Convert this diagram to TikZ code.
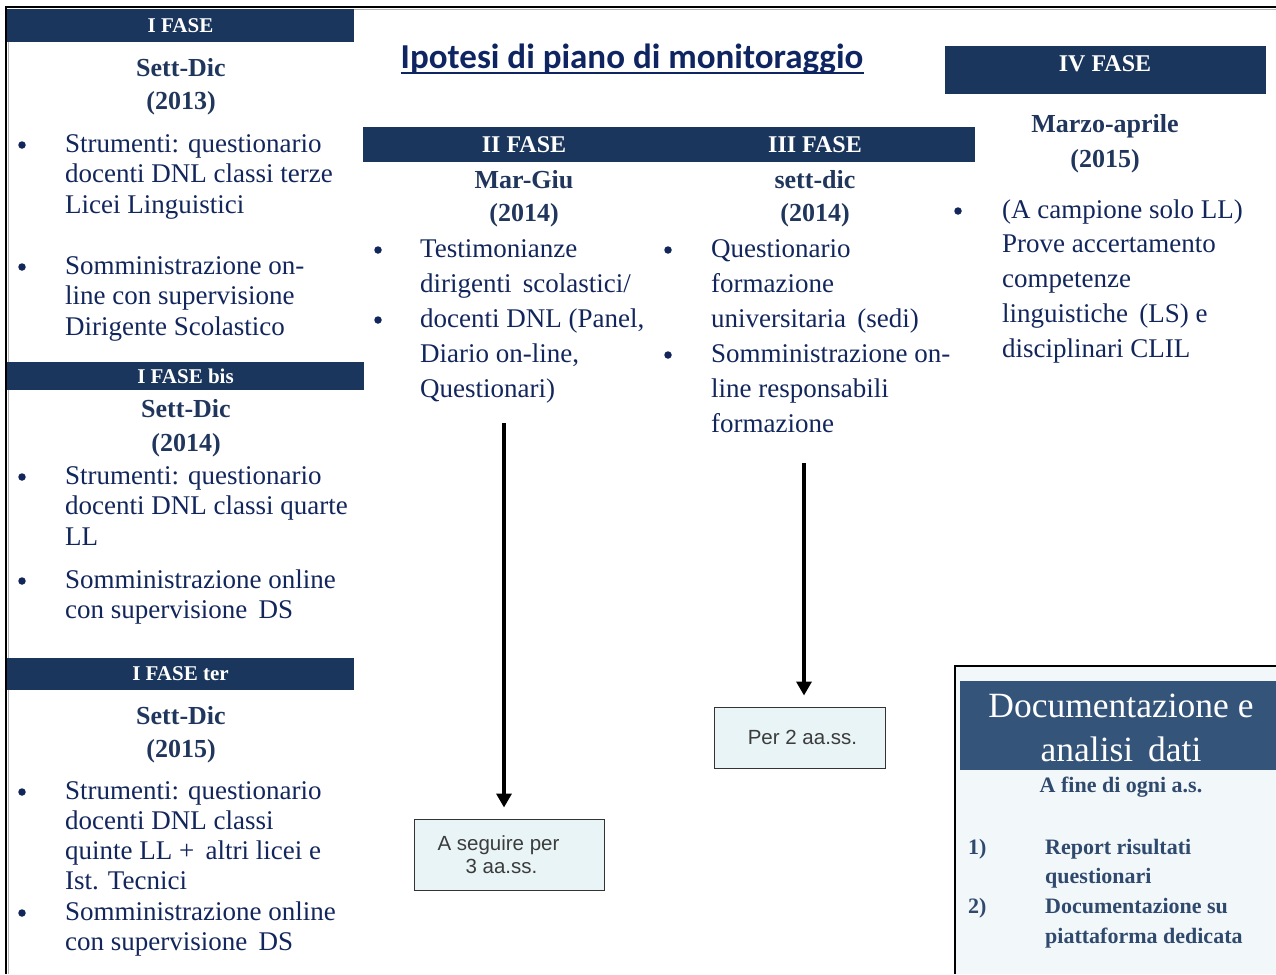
\documentclass[tikz,border=0pt]{standalone}
\usepackage{fontspec}
\setmainfont{Liberation Serif}
\newfontfamily\titlefont{Carlito}
\newfontfamily\arialfont{Liberation Sans}
\usetikzlibrary{arrows.meta}
\definecolor{hdrblue}{RGB}{27,54,93}
\definecolor{bodyblue}{RGB}{18,38,92}
\definecolor{subblue}{RGB}{32,54,92}
\definecolor{titleblue}{RGB}{14,37,98}
\definecolor{docblue}{RGB}{52,84,122}
\definecolor{doctext}{RGB}{48,74,110}
\definecolor{docbg}{RGB}{242,247,250}
\definecolor{boxbg}{RGB}{232,244,245}
\definecolor{boxtext}{RGB}{60,60,60}
\tikzset{
  body/.style={anchor=base west, inner sep=0, text=bodyblue, font=\fontsize{27}{32}\selectfont},
  subhead/.style={anchor=center, inner sep=0, text=subblue, font=\bfseries\fontsize{26}{30}\selectfont},
  hdrtext/.style={anchor=center, inner sep=0, text=white, font=\bfseries\fontsize{21}{24}\selectfont},
  bighdr/.style={hdrtext, font=\bfseries\fontsize{24}{28}\selectfont},
  dot/.style={circle, fill=bodyblue, inner sep=0, minimum size=7.5},
  smallbox/.style={draw=black!80, line width=1, fill=boxbg, text=boxtext, align=center,
     font=\arialfont\fontsize{20.5}{26}\selectfont},
  bigarrow/.style={line width=3.5, -{Triangle[width=15pt,length=14pt]}},
  doctxt/.style={anchor=base west, inner sep=0, text=doctext, font=\bfseries\fontsize{22}{26}\selectfont},
}
\newcommand\txtlines[5]{\foreach \myline [count=\i from 0] in {#5} \node[body] (#1\i) at (#2, {#3+#4*\i}) {\myline};}
\begin{document}
\begin{tikzpicture}[x=1pt,y=-1pt]
\useasboundingbox (0,0) rectangle (1276,974);
% outer frame
\draw[gray!60, line width=1.5] (1276,9.5) -- (8.5,9.5) -- (8.5,974);
\draw[black, line width=2] (6,974) -- (6,7) -- (1276,7);

% ---------- I FASE ----------
\fill[hdrblue] (7,9) rectangle (354,42);
\node[hdrtext] (h1) at (180.5,25.5) {I FASE};
\node[subhead] (s1a) at (181,68) {Sett-Dic};
\node[subhead] (s1b) at (181,103) {(2013)};
\node[dot] (b1a) at (22,145) {};
\node[dot] (b1b) at (22,267) {};
\txtlines{fa}{65}{152}{30.5}{{Strumenti: questionario},{docenti DNL classi terze},{Licei Linguistici}}
\txtlines{fb}{65}{274}{30.5}{{Somministrazione on-},{line con supervisione},{Dirigente Scolastico}}

% ---------- I FASE bis ----------
\fill[hdrblue] (7,362) rectangle (364,390);
\node[hdrtext] (h2) at (185.5,376.5) {I FASE bis};
\node[subhead] (s2a) at (186,409) {Sett-Dic};
\node[subhead] (s2b) at (186,445) {(2014)};
\node[dot] (b2a) at (22,477) {};
\node[dot] (b2b) at (22,581) {};
\txtlines{ga}{65}{484}{30.8}{{Strumenti: questionario},{docenti DNL classi quarte},{LL}}
\txtlines{gb}{65}{588}{30.5}{{Somministrazione online},{con supervisione\, DS}}

% ---------- I FASE ter ----------
\fill[hdrblue] (7,658) rectangle (354,690);
\node[hdrtext] (h3) at (180.5,674) {I FASE ter};
\node[subhead] (s3a) at (181,716) {Sett-Dic};
\node[subhead] (s3b) at (181,751) {(2015)};
\node[dot] (b3a) at (22,792) {};
\node[dot] (b3b) at (22,913) {};
\txtlines{ha}{65}{799}{30.3}{{Strumenti: questionario},{docenti DNL classi},{quinte LL +\, altri licei e},{Ist. Tecnici},{Somministrazione online},{con supervisione\, DS}}

% ---------- title ----------
\node[anchor=base, inner sep=0, text=titleblue, font=\titlefont\bfseries\fontsize{35}{40}\selectfont] (title) at (632,68) {Ipotesi di piano di monitoraggio};
\draw[titleblue, line width=2.5] ([yshift=-5]title.base west) -- ([yshift=-5]title.base east);

% ---------- II / III FASE ----------
\fill[hdrblue] (363,127) rectangle (975,162);
\node[bighdr] (h4) at (524,145) {II FASE};
\node[bighdr] (h5) at (815,145) {III FASE};
\node[subhead] (s4a) at (524,180) {Mar-Giu};
\node[subhead] (s4b) at (524,215) {(2014)};
\node[subhead] (s5a) at (815,180) {sett-dic};
\node[subhead] (s5b) at (815,215) {(2014)};
\node[dot] (b4a) at (378,250) {};
\node[dot] (b4b) at (378,320) {};
\txtlines{ia}{420}{257}{35}{{Testimonianze},{dirigenti\, scolastici/},{docenti DNL (Panel,},{Diario on-line,},{Questionari)}}
\node[dot] (b5a) at (668,250) {};
\node[dot] (b5b) at (668,355) {};
\txtlines{ja}{711}{257}{35}{{Questionario},{formazione},{universitaria\, (sedi)},{Somministrazione on-},{line responsabili},{formazione}}

% ---------- IV FASE ----------
\fill[hdrblue] (945,46) rectangle (1266,94);
\node[bighdr] (h6) at (1105,64) {IV FASE};
\node[subhead] (s6a) at (1105,126) {Marzo-aprile};
\node[subhead] (s6b) at (1105,161) {(2015)};
\node[dot] (b6a) at (958,211) {};
\txtlines{ka}{1002}{218}{34.8}{{(A campione solo LL)},{Prove accertamento},{competenze},{linguistiche\, (LS) e},{disciplinari CLIL}}

% ---------- arrows and small boxes ----------
\node[smallbox, minimum width=190, minimum height=71] (box1) at (509,854.5) {A seguire per\hspace*{21pt}\\[-3pt]3 aa.ss.\hspace*{15pt}};
\node[smallbox, minimum width=171, minimum height=61] (box2) at (799.5,737.5) {\hspace*{6pt}Per 2 aa.ss.};
\coordinate (a1s) at (504,423);
\coordinate (a2s) at (804,463);
\draw[bigarrow, shorten >=11] (a1s) -- (a1s |- box1.north);
\draw[bigarrow, shorten >=11] (a2s) -- (a2s |- box2.north);

% ---------- Documentazione ----------
\fill[docbg] (955,666) rectangle (1276,974);
\draw[black, line width=1.2] (955,974) -- (955,666) -- (1276,666);
\fill[docblue] (960,681) rectangle (1276,770);
\node[anchor=center, inner sep=0, text=white, font=\fontsize{35.5}{44}\selectfont] (d1) at (1121,706) {Documentazione e};
\node[anchor=center, inner sep=0, text=white, font=\fontsize{35.5}{44}\selectfont] (d2) at (1121,749) {analisi\, dati};
\node[anchor=center, inner sep=0, text=doctext, font=\bfseries\fontsize{22}{26}\selectfont] (d3) at (1121,787) {A fine di ogni a.s.};
\node[doctxt] (n1) at (968,854) {1)};
\node[doctxt] (r1) at (1045,854) {Report risultati};
\node[doctxt] (r2) at (1045,883.5) {questionari};
\node[doctxt] (n2) at (968,913) {2)};
\node[doctxt] (r3) at (1045,913) {Documentazione su};
\node[doctxt] (r4) at (1045,943) {piattaforma dedicata};
\end{tikzpicture}
\end{document}
